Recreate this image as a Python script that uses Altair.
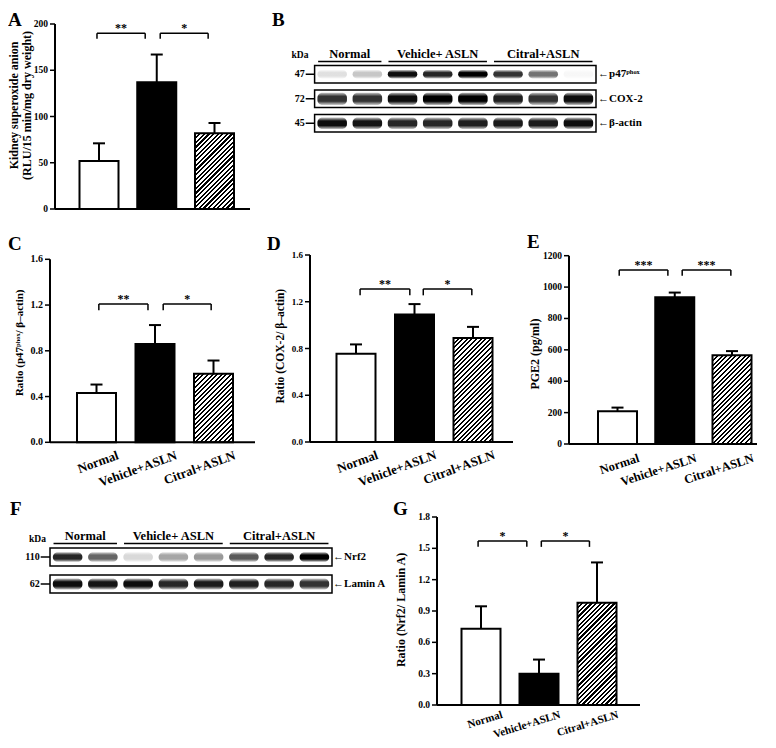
import math
import altair as alt
import pandas as pd

W, H = 760, 732
FONT = "Liberation Serif"

# ---------------- data ----------------
groups = ["Normal", "Vehicle+ASLN", "Citral+ASLN"]
positions = [1, 2, 3]

A_mean = [52, 137, 82]
A_sem = [19, 30, 11]
A_ticks = [0, 50, 100, 150, 200]

C_mean = [0.43, 0.86, 0.60]
C_sem = [0.075, 0.165, 0.115]
C_ticks = [0.0, 0.4, 0.8, 1.2, 1.6]

D_mean = [0.755, 1.09, 0.89]
D_sem = [0.08, 0.09, 0.095]
D_ticks = [0.0, 0.4, 0.8, 1.2, 1.6]

E_mean = [208, 935, 565]
E_sem = [24, 30, 27]
E_ticks = [0, 200, 400, 600, 800, 1000, 1200]

G_mean = [0.73, 0.30, 0.98]
G_sem = [0.215, 0.135, 0.385]
G_ticks = [0.0, 0.3, 0.6, 0.9, 1.2, 1.5, 1.8]

A_title = ["Kidney superoxide anion", "(RLU/15 min/mg dry weight)"]
C_title = ["Ratio (p47ᵖʰᵒˣ/ β–actin)"]
D_title = ["Ratio (COX-2/ β–actin)"]
E_title = ["PGE2  (pg/ml)"]
G_title = ["Ratio (Nrf2/ Lamin A)"]

# significance brackets (x in bar-position units, y in data units)
A_br_left, A_br_right, A_br_stars, A_br_top, A_br_foot = [0.965, 2.06], [1.80, 2.89], ["**", "*"], 190, 184
C_br_left, C_br_right, C_br_stars, C_br_top, C_br_foot = [1.04, 2.14], [1.88, 2.96], ["**", "*"], 1.21, 1.155
D_br_left, D_br_right, D_br_stars, D_br_top, D_br_foot = [1.07, 2.15], [1.92, 2.98], ["**", "*"], 1.31, 1.255
E_br_left, E_br_right, E_br_stars, E_br_top, E_br_foot = [1.03, 2.13], [1.88, 2.98], ["***", "***"], 1109, 1073
G_br_left, G_br_right, G_br_stars, G_br_top, G_br_foot = [0.95, 2.04], [1.79, 2.87], ["*", "*"], 1.571, 1.514

# western blots: band intensity per lane (8 lanes)
B_groups = ["Normal", "Vehicle+ ASLN", "Citral+ASLN"]
B_group_lanes = [2, 3, 3]
B_rows = ["p47ᵖʰᵒˣ", "COX-2", "β-actin"]
B_kda = ["47", "72", "45"]
B_p47 = [0.12, 0.22, 0.95, 0.85, 1.0, 0.8, 0.55, 0.03]
B_cox2 = [0.8, 0.8, 0.95, 1.0, 1.0, 0.88, 0.8, 0.95]
B_actin = [0.95, 0.92, 0.85, 0.85, 0.88, 0.9, 0.9, 0.95]

F_groups = ["Normal", "Vehicle+ ASLN", "Citral+ASLN"]
F_group_lanes = [2, 3, 3]
F_rows = ["Nrf2", "Lamin A"]
F_kda = ["110", "62"]
F_nrf2 = [0.85, 0.6, 0.15, 0.35, 0.4, 0.65, 0.85, 1.0]
F_lamin = [0.95, 0.92, 0.95, 0.85, 0.9, 0.88, 0.85, 0.8]

letters = ["A", "B", "C", "D", "E", "F", "G"]

# ---------------- layout (chart pixel frames) ----------------
# x0, x1 (axis extent), centre of bar 1, centre of bar 3, y bottom, y top
FRAME_A = (47, 242, 91, 206.5, 201, 16)
FRAME_C = (42, 247, 88.5, 205.5, 434.3, 251.3)
FRAME_D = (302, 505, 348, 465, 434, 247)
FRAME_E = (561, 749, 609.5, 724, 436, 247.7)
FRAME_G = (429, 632, 473, 589, 697, 509)
FRAME_B = (306.6, 588, 54, 127.5)
FRAME_F = (42, 324, 535.5, 589.5)
LETTER_X = [0, 264, 0, 259, 519, 2, 385]
LETTER_Y = [18, 18, 242, 242, 240, 507, 507]

BAR_HALF = 19.5
CAP_HALF = 6.0
TICK_LEN = 5
HATCH_PERIOD = 4.6
BAND_W = 0.42


def hatch_fill(h_px, w_px):
    r = h_px / w_px
    tmax = (1 + r) / (1 + r * r)
    span = (w_px + h_px) / math.sqrt(2)
    dt = tmax * (HATCH_PERIOD / math.sqrt(2)) / span
    stops = []
    t = 0.0
    while t < tmax + dt and t < 1:
        a = round(t, 5)
        b = round(min(1.0, t + 0.45 * dt), 5)
        c = round(min(1.0, t + dt), 5)
        stops += [alt.GradientStop(offset=a, color="black"),
                  alt.GradientStop(offset=b, color="black"),
                  alt.GradientStop(offset=b, color="white"),
                  alt.GradientStop(offset=c, color="white")]
        t += dt
    return alt.LinearGradient(gradient="linear", stops=stops, x1=0, y1=0, x2=1, y2=round(r, 4))


def bar_panel(mean, sem, ticks, fmt, frame, title_lines, title_size, title_off, title_mid, tick_size,
              br_left, br_right, br_stars, br_top, br_foot, show_labels, label_size, label_angle, label_dy):
    x0, x1, c1, c3, ybot, ytop = frame
    s = (c3 - c1) / 2
    d0 = 1 - (c1 - x0) / s
    d1 = 3 + (x1 - c3) / s
    xs = alt.Scale(domain=[d0, d1], range=[x0, x1], nice=False, zero=False)
    ymax = ticks[-1]
    ppu = (ybot - ytop) / ymax
    ys = alt.Scale(domain=[0, ymax], range=[ybot, ytop], nice=False, zero=False)

    def X(f):
        return alt.X(f, type="quantitative", scale=xs, axis=None)

    def Y(f):
        return alt.Y(f, type="quantitative", scale=ys, axis=None)

    hw = BAR_HALF / s
    cw = CAP_HALF / s
    df = pd.DataFrame({"group": groups, "pos": positions, "mean": mean, "sem": sem})
    base = alt.Chart(df).transform_calculate(
        lo=f"datum.pos - {hw}", hi=f"datum.pos + {hw}", top="datum.mean + datum.sem",
        cl=f"datum.pos - {cw}", cr=f"datum.pos + {cw}", zero="0",
        lx=f"datum.pos + {19.5 / s}", ly=f"{-label_dy / ppu}")
    err = base.mark_rule(strokeWidth=2, color="black").encode(x=X("pos"), y=Y("mean"), y2="top:Q")
    cap = base.mark_rule(strokeWidth=2, color="black").encode(x=X("cl"), x2="cr:Q", y=Y("top"))

    def bar(pos, fill):
        return base.transform_filter(f"datum.pos == {pos}").mark_rect(
            fill=fill, stroke="black", strokeWidth=2).encode(
            x=X("lo"), x2="hi:Q", y=Y("mean"), y2="zero:Q")

    h_px = mean[2] / ymax * (ybot - ytop)
    bars = [bar(1, "white"), bar(2, "black"), bar(3, hatch_fill(h_px, 2 * BAR_HALF))]

    # axes drawn as marks on the panel's scales
    frame_df = pd.DataFrame({"a": [d0], "b": [d1], "lo": [0], "hi": [ymax]})
    fb = alt.Chart(frame_df)
    xdom = fb.mark_rule(strokeWidth=2, color="black").encode(x=X("a"), x2="b:Q", y=Y("lo"))
    ydom = fb.mark_rule(strokeWidth=2, color="black").encode(x=X("a"), y=Y("lo"), y2="hi:Q")
    tb = alt.Chart(pd.DataFrame({"v": ticks})).transform_calculate(
        a=f"{d0}", t=f"{d0 - TICK_LEN / s}", lab=f"format(datum.v, '{fmt}')")
    yt = tb.mark_rule(strokeWidth=1.5, color="black").encode(x=X("t"), x2="a:Q", y=Y("v"))
    ytl = tb.mark_text(fontSize=tick_size, fontWeight="bold", align="right", baseline="middle", dx=-2).encode(
        x=X("t"), y=Y("v"), text="lab:N")
    n = len(title_lines)
    lh = title_size + 1
    tdf = pd.DataFrame({"title": title_lines,
                        "tx": [d0 - (title_off + (n - 1 - i) * lh) / s for i in range(n)],
                        "ty": [title_mid] * n})
    ttl = alt.Chart(tdf).mark_text(fontSize=title_size, fontWeight="bold", angle=270, align="center",
                                   baseline="bottom").encode(x=X("tx"), y=Y("ty"), text="title:N")
    layers = [err, cap, *bars, xdom, ydom, yt, ytl, ttl]
    if show_labels:
        xl = base.mark_text(fontSize=label_size, fontWeight="bold", angle=label_angle, align="right",
                            baseline="top").encode(x=X("lx"), y=Y("ly"), text="group:N")
        layers.append(xl)

    bdf = pd.DataFrame({"left": br_left, "right": br_right, "stars": br_stars,
                        "top": [br_top] * len(br_left), "foot": [br_foot] * len(br_left)})
    bb = alt.Chart(bdf).transform_calculate(mid="(datum.left + datum.right) / 2")
    brh = bb.mark_rule(strokeWidth=1.5, color="black").encode(x=X("left"), x2="right:Q", y=Y("top"))
    brl = bb.mark_rule(strokeWidth=1.5, color="black").encode(x=X("left"), y=Y("foot"), y2="top:Q")
    brr = bb.mark_rule(strokeWidth=1.5, color="black").encode(x=X("right"), y=Y("foot"), y2="top:Q")
    stars = bb.mark_text(fontSize=12, fontWeight="bold", baseline="alphabetic", dy=-1).encode(
        x=X("mid"), y=Y("top"), text="stars:N")
    layers += [brh, brl, brr, stars]
    return alt.layer(*layers)


band_grad = alt.LinearGradient(gradient="linear", x1=0, y1=0, x2=0, y2=1, stops=[
    alt.GradientStop(offset=0, color="rgba(0,0,0,0.25)"),
    alt.GradientStop(offset=0.3, color="black"),
    alt.GradientStop(offset=0.7, color="black"),
    alt.GradientStop(offset=1, color="rgba(0,0,0,0.25)")])


def blot_panel(frame, row_names, kda, intens_rows, grp_names, grp_lanes, band_half, box_half,
               lab_y, line_y, kda_x, kda_y, marker_x, right_x, lab_size):
    bx0, bx1, yt, yb = frame
    nrows = len(row_names)
    xs = alt.Scale(domain=[0.5, 8.5], range=[bx0, bx1], nice=False, zero=False)
    ys = alt.Scale(domain=[0.5, nrows + 0.5], range=[yt, yb], nice=False, zero=False)

    def X(f):
        return alt.X(f, type="quantitative", scale=xs, axis=None)

    def Y(f):
        return alt.Y(f, type="quantitative", scale=ys, axis=None)

    rows = list(range(1, nrows + 1))
    band_df = pd.DataFrame([{"lane": l, "row": r, "v": intens_rows[r - 1][l - 1]}
                            for r in rows for l in range(1, 9)])
    th = "[" + ",".join(str(b) for b in band_half) + "][datum.row - 1]"
    bands = alt.Chart(band_df).transform_calculate(
        l=f"datum.lane - {BAND_W}", r=f"datum.lane + {BAND_W}",
        t=f"datum.row - {th}", b=f"datum.row + {th}").mark_rect(
        fill=band_grad, cornerRadius=5).encode(
        x=X("l"), x2="r:Q", y=Y("t"), y2="b:Q",
        opacity=alt.Opacity("v:Q", scale=None))

    row_df = pd.DataFrame({"row": rows, "name": row_names, "kda": kda})
    rb = alt.Chart(row_df).transform_calculate(
        bl="0.5", br="8.5", bt=f"datum.row - {box_half}", bbm=f"datum.row + {box_half}",
        mx=f"{marker_x + 0.02}", rx=f"{right_x}", label="'←' + datum.name")
    box_bg = rb.mark_rect(fill="white").encode(x=X("bl"), x2="br:Q", y=Y("bt"), y2="bbm:Q")
    box_line = rb.mark_rect(fill="white", fillOpacity=0, stroke="black", strokeWidth=1.5).encode(
        x=X("bl"), x2="br:Q", y=Y("bt"), y2="bbm:Q")
    mtick = rb.mark_rule(strokeWidth=1.5, color="black").encode(x=X("mx"), x2="bl:Q", y=Y("row"))
    mtext = rb.mark_text(fontSize=10, fontWeight="bold", align="right", baseline="middle", dx=-1).encode(
        x=X("mx"), y=Y("row"), text="kda:N")
    rtext = rb.mark_text(fontSize=11, fontWeight="bold", align="left", baseline="middle").encode(
        x=X("rx"), y=Y("row"), text="label:N")

    first = []
    acc = 0
    for n in grp_lanes:
        first.append(acc + 1)
        acc += n
    gdf = pd.DataFrame({"name": grp_names, "first": first, "n": grp_lanes})
    gb = alt.Chart(gdf).transform_calculate(
        gl="datum.first - 0.4", gr="datum.first + datum.n - 1 + 0.4",
        gc="datum.first + (datum.n - 1) / 2", ly=f"{lab_y}", uy=f"{line_y}")
    gtext = gb.mark_text(fontSize=lab_size, fontWeight="bold", baseline="alphabetic").encode(
        x=X("gc"), y=Y("ly"), text="name:N")
    gline = gb.mark_rule(strokeWidth=1.5, color="black").encode(x=X("gl"), x2="gr:Q", y=Y("uy"))
    kdat = alt.Chart(pd.DataFrame({"t": ["kDa"], "kx": [kda_x], "ky": [kda_y]})).mark_text(
        fontSize=9.5, fontWeight="bold", baseline="alphabetic").encode(
        x=X("kx"), y=Y("ky"), text="t:N")
    return alt.layer(box_bg, bands, box_line, mtick, mtext, rtext, gtext, gline, kdat)


panel_A = bar_panel(A_mean, A_sem, A_ticks, "d", FRAME_A, A_title, 12, 21, 112, 9.5,
                    A_br_left, A_br_right, A_br_stars, A_br_top, A_br_foot, False, 12, 340, 8)
panel_C = bar_panel(C_mean, C_sem, C_ticks, ".1f", FRAME_C, C_title, 11, 25, 0.87, 10,
                    C_br_left, C_br_right, C_br_stars, C_br_top, C_br_foot, True, 13, 340, 7)
panel_D = bar_panel(D_mean, D_sem, D_ticks, ".1f", FRAME_D, D_title, 11.5, 24, 0.82, 9,
                    D_br_left, D_br_right, D_br_stars, D_br_top, D_br_foot, True, 13, 340, 7)
panel_E = bar_panel(E_mean, E_sem, E_ticks, "d", FRAME_E, E_title, 12, 27, 573, 9.5,
                    E_br_left, E_br_right, E_br_stars, E_br_top, E_br_foot, True, 12.5, 342, 8)
panel_G = bar_panel(G_mean, G_sem, G_ticks, ".1f", FRAME_G, G_title, 12, 29, 0.91, 9.5,
                    G_br_left, G_br_right, G_br_stars, G_br_top, G_br_foot, True, 11, 343, 4)

panel_B = blot_panel(FRAME_B, B_rows, B_kda, [B_p47, B_cox2, B_actin], B_groups, B_group_lanes,
                     [0.17, 0.25, 0.23], 0.36, 0.32, 0.484, 0.085, 0.34, 0.227, 8.56, 12.5)
panel_F = blot_panel(FRAME_F, F_rows, F_kda, [F_nrf2, F_lamin], F_groups, F_group_lanes,
                     [0.18, 0.2], 0.333, 0.37, 0.5, 0.145, 0.44, 0.216, 8.53, 12.5)

letter_df = pd.DataFrame({"letter": letters, "px": LETTER_X, "py": LETTER_Y})
letter_layer = alt.Chart(letter_df).mark_text(
    fontSize=19, fontWeight="bold", align="left", baseline="alphabetic").encode(
    x=alt.X("px:Q", scale=None, axis=None), y=alt.Y("py:Q", scale=None, axis=None), text="letter:N")

chart = alt.layer(panel_A, panel_B, panel_C, panel_D, panel_E, panel_F, panel_G, letter_layer).resolve_scale(
    x="independent", y="independent").properties(
    width=W, height=H, autosize=alt.AutoSizeParams(type="none"), padding=0, background="white"
).configure_view(stroke=None).configure_text(font=FONT, color="black")

chart.save("out.html", embed_options={"renderer": "svg", "actions": False})
